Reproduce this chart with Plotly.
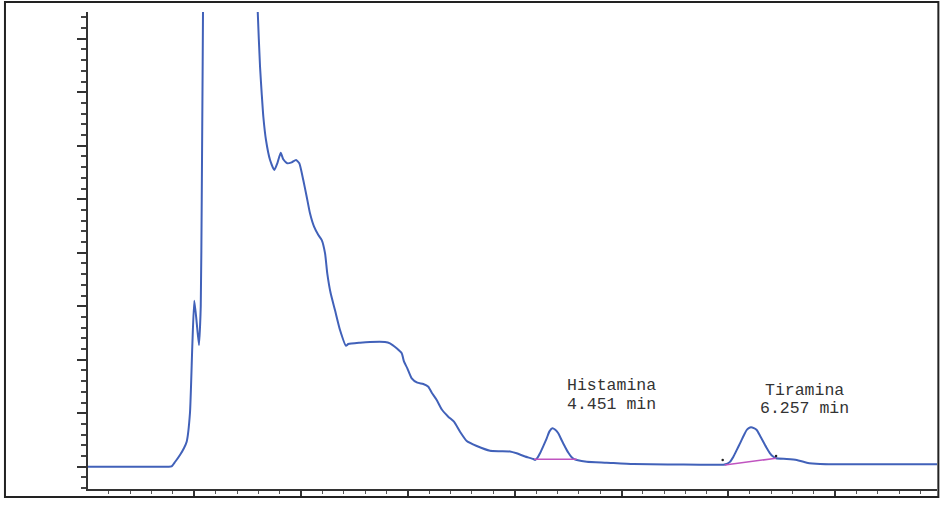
import plotly.graph_objects as go

# ---- data (time in min, signal in arbitrary units) ----
time_min = [0.230, 0.600, 0.900, 0.960, 0.989, 1.021, 1.066, 1.103, 1.127, 1.157, 1.178, 1.196,
            1.216, 1.239,
            1.255, 1.264, 1.280, 1.300, 1.500, 1.745, 1.773, 1.794, 1.809, 1.824, 1.848,
            1.885, 1.924, 1.951, 1.982, 2.005, 2.042, 2.082, 2.121, 2.151, 2.187, 2.218,
            2.248, 2.285, 2.324, 2.355, 2.385, 2.405, 2.436, 2.475, 2.521, 2.575, 2.596,
            2.703, 2.794, 2.930, 2.975, 3.036, 3.082, 3.103, 3.133, 3.173, 3.224, 3.278,
            3.324, 3.355, 3.400, 3.445, 3.505, 3.557, 3.612, 3.673, 3.764, 3.885, 3.975,
            4.066, 4.127, 4.203, 4.278, 4.294, 4.317, 4.339, 4.370, 4.400, 4.425, 4.451,
            4.478, 4.505, 4.535, 4.566, 4.597, 4.627, 4.650, 4.673, 4.764, 4.945, 5.187,
            5.500, 5.794, 5.950, 6.006, 6.036, 6.066, 6.097, 6.127, 6.157, 6.188, 6.218,
            6.237, 6.257,
            6.283, 6.309, 6.339, 6.369, 6.400, 6.430, 6.458, 6.485, 6.582, 6.673, 6.764,
            6.885, 7.157, 7.430, 7.948]
signal = [0.00, 0.00, 0.00, 0.00, 0.04, 0.88, 2.19, 3.50, 4.67, 10.04, 22.43, 31.0,
          27.4, 22.75,
          30.0, 50.0, 100.0, 200.0, 320.0, 110.0, 85.05, 74.77, 69.79, 65.42, 61.07,
          57.33, 55.46, 56.71, 58.69, 57.46, 56.71, 56.90, 57.33, 56.71, 53.59, 50.47,
          47.36, 44.86, 43.31, 42.37, 39.89, 36.15, 32.41, 29.29, 25.55, 22.60, 22.93,
          23.18, 23.31, 23.31, 23.07, 22.13, 21.20, 19.63, 18.39, 16.52, 15.70, 15.46,
          14.95, 13.83, 12.47, 10.73, 9.35, 8.41, 6.54, 4.80, 3.87, 2.99, 2.90,
          2.85, 2.50, 1.90, 1.44, 1.25, 1.70, 2.50, 3.90, 5.31, 6.60, 7.18,
          6.90, 6.24, 5.00, 3.74, 2.60, 1.76, 1.40, 1.25, 0.93, 0.75, 0.50,
          0.42, 0.37, 0.37, 0.37, 0.50, 0.90, 1.87, 3.10, 4.37, 5.70, 6.86,
          7.20, 7.36,
          7.20, 6.86, 5.80, 4.67, 3.50, 2.50, 1.90, 1.57, 1.44, 1.25, 0.75,
          0.50, 0.45, 0.45, 0.45]

hist_base_t = [4.286, 4.673]
hist_base_y = [1.38, 1.38]
tir_base_t = [6.018, 6.485]
tir_base_y = [0.32, 1.57]
mark_t = [6.000, 6.485]
mark_y = [1.25, 2.00]

labels = [
    {"name": "Histamina", "rt": "4.451 min", "x": 4.987, "y1": 15.21, "y2": 11.68},
    {"name": "Tiramina", "rt": "6.257 min", "x": 6.741, "y1": 14.24, "y2": 10.82},
]

fig = go.Figure()
fig.add_trace(go.Scatter(x=time_min, y=signal, mode="lines",
                         line=dict(color="#4161b9", width=2, shape="spline", smoothing=0.5),
                         showlegend=False))
fig.add_trace(go.Scatter(x=hist_base_t, y=hist_base_y, mode="lines",
                         line=dict(color="#c054c0", width=1.5), showlegend=False))
fig.add_trace(go.Scatter(x=tir_base_t, y=tir_base_y, mode="lines",
                         line=dict(color="#c054c0", width=1.5), showlegend=False))
fig.add_trace(go.Scatter(x=mark_t, y=mark_y, mode="markers",
                         marker=dict(color="#222222", size=2.5), showlegend=False))

for lab in labels:
    for txt, yy in ((lab["name"], lab["y1"]), (lab["rt"], lab["y2"])):
        fig.add_annotation(x=lab["x"], y=yy, text=txt, showarrow=False,
                           xanchor="center", yanchor="middle",
                           font=dict(family="Liberation Mono", size=16.5, color="#333333"))

fig.add_shape(type="rect", xref="paper", yref="paper",
              x0=-0.0978, x1=1.0016, y0=-0.0168, y1=1.0210,
              line=dict(color="#222222", width=2), fillcolor="rgba(0,0,0,0)", layer="above")

fig.update_xaxes(range=[0.23, 7.948], showgrid=False, zeroline=False, showticklabels=False,
                 showline=True, linecolor="#333333", linewidth=2,
                 ticks="outside", tickmode="linear", tick0=0.2255, dtick=0.9709,
                 ticklen=5, tickwidth=1.5, tickcolor="#333333",
                 minor=dict(ticks="outside", tickmode="linear", tick0=0.2255, dtick=0.19418,
                            ticklen=3, tickwidth=1, tickcolor="#555555", showgrid=False))
fig.update_yaxes(range=[-4.17, 85.0], showgrid=False, zeroline=False, showticklabels=False,
                 showline=True, linecolor="#333333", linewidth=2,
                 ticks="outside", tickmode="linear", tick0=0, dtick=10,
                 ticklen=9, tickwidth=1.5, tickcolor="#333333",
                 minor=dict(ticks="outside", tickmode="linear", tick0=0, dtick=2,
                            ticklen=5, tickwidth=1.5, tickcolor="#444444", showgrid=False))

fig.update_layout(width=947, height=506, margin=dict(l=88, r=10, t=12, b=17),
                  paper_bgcolor="white", plot_bgcolor="white", showlegend=False)

fig.write_html("out.html", config={"displayModeBar": False},
               post_script="document.body.style.margin='0';document.body.style.overflow='hidden';")
